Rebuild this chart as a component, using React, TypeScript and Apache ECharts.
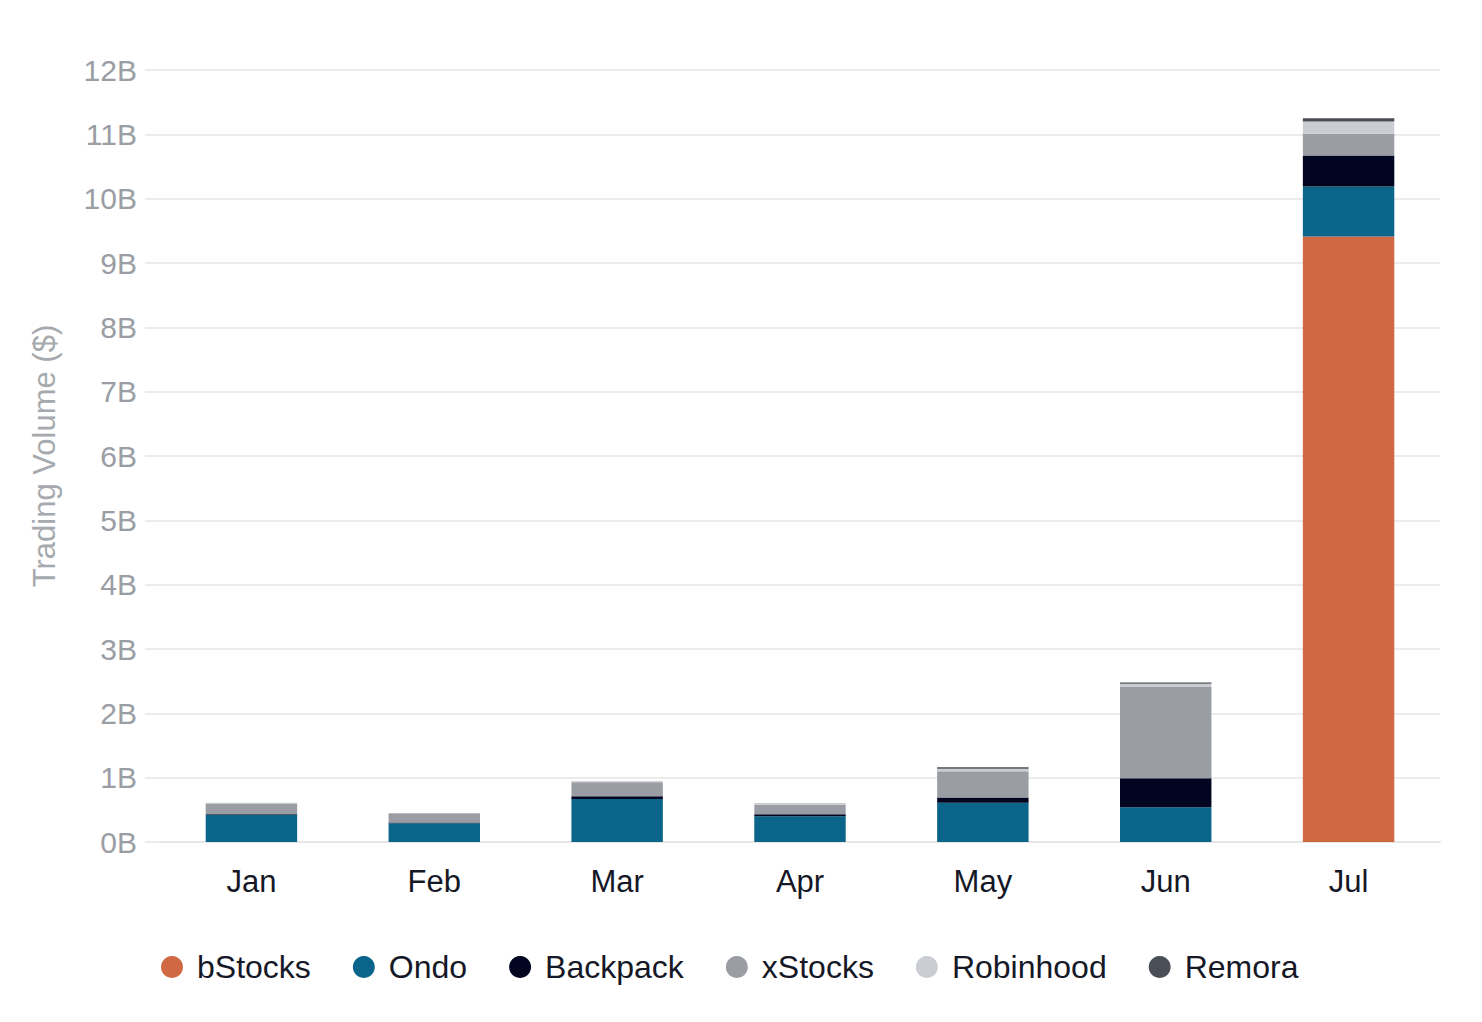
import React, { useEffect, useRef } from "react";
import * as echarts from "echarts";

const months = ["Jan", "Feb", "Mar", "Apr", "May", "Jun", "Jul"];
const seriesNames = ["bStocks", "Ondo", "Backpack", "xStocks", "Robinhood", "Remora"];
const bStocks = [0, 0, 0, 0, 0, 0, 9.41];
const ondo = [0.42, 0.29, 0.67, 0.4, 0.61, 0.54, 0.78];
const backpack = [0.01, 0.015, 0.04, 0.03, 0.08, 0.45, 0.48];
const xStocks = [0.17, 0.14, 0.21, 0.15, 0.41, 1.42, 0.34];
const robinhood = [0.01, 0.006, 0.01, 0.015, 0.04, 0.05, 0.19];
const remora = [0.002, 0, 0.005, 0.002, 0.02, 0.02, 0.05];
const colors = ["#D06843", "#0B6489", "#01051F", "#9A9EA4", "#CACDD1", "#4A4E56"];

const FONT = 'Helvetica, "Liberation Sans", Arial, sans-serif';

export default function App() {
  const ref = useRef<HTMLDivElement>(null);
  useEffect(() => {
    if (!ref.current) return;
    const chart = echarts.init(ref.current, null, { renderer: "svg" });
    const values = [bStocks, ondo, backpack, xStocks, robinhood, remora];
    chart.setOption({
      animation: false,
      backgroundColor: "#ffffff",
      textStyle: { fontFamily: FONT },
      color: colors,
      grid: { left: 160, right: 42, top: 70, bottom: 180, containLabel: false },
      legend: {
        data: seriesNames,
        left: 156,
        top: 946,
        icon: "circle",
        itemWidth: 22,
        itemHeight: 22,
        itemGap: 42,
        textStyle: { fontSize: 32, color: "#151826", fontFamily: FONT, padding: [0, 0, 0, 9] },
      },
      xAxis: {
        type: "category",
        data: months,
        axisLine: { show: true, lineStyle: { color: "#e6e6e6", width: 2 } },
        axisTick: { show: false },
        axisLabel: { fontSize: 31, color: "#151826", margin: 24, fontFamily: FONT },
      },
      yAxis: {
        type: "value",
        min: 0,
        max: 12,
        interval: 1,
        name: "Trading Volume ($)",
        nameLocation: "middle",
        nameGap: 100,
        nameRotate: 90,
        nameTextStyle: { fontSize: 31, color: "#a6aaae", fontFamily: FONT },
        axisLine: { show: false },
        axisTick: { show: true, length: 15, lineStyle: { color: "#ececec", width: 2 } },
        axisLabel: { formatter: "{value}B", fontSize: 30, color: "#9a9ea4", margin: 23, fontFamily: FONT },
        splitLine: { show: true, lineStyle: { color: "#ececec", width: 2 } },
      },
      series: seriesNames.map((name, i) => ({
        name,
        type: "bar",
        stack: "total",
        barWidth: "50%",
        data: values[i],
        itemStyle: { color: colors[i] },
      })),
    });
    return () => chart.dispose();
  }, []);
  return (
    <div
      ref={ref}
      style={{ position: "fixed", left: 0, top: 0, width: "1482px", height: "1022px" }}
    />
  );
}
